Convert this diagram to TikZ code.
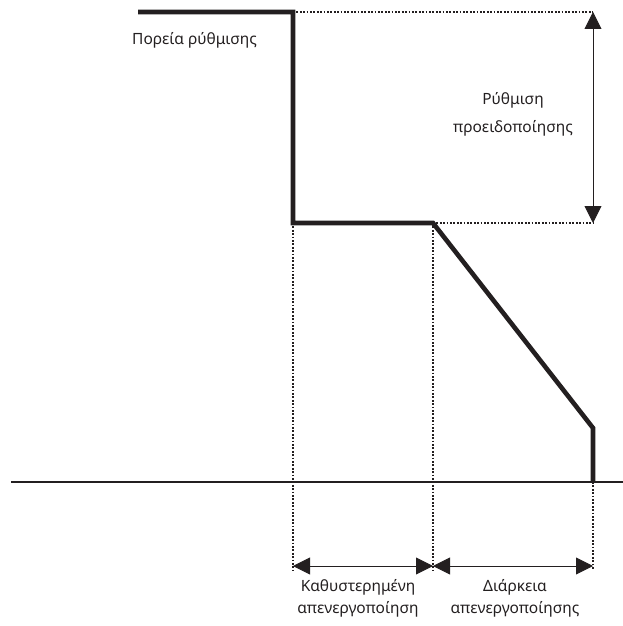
\documentclass[tikz,border=0pt]{standalone}
\usepackage{fontspec}
\setsansfont{Noto Sans}
\usepackage{tikz}
\usetikzlibrary{positioning,arrows.meta}
\definecolor{curvecol}{RGB}{35,31,32}

\begin{document}
\begin{tikzpicture}[
                x=1pt, y=-1pt,
                font=\sffamily\fontsize{15.5}{19}\selectfont,
                curve/.style={draw=curvecol, line width=4.6pt},
                axis/.style={draw=curvecol, line width=2.6pt},
                guide/.style={draw=curvecol, line width=1.8pt, dash pattern=on 1.8pt off 1.6pt},
                span/.style={draw=curvecol, line width=0.9pt, {Triangle[length=17pt,width=17pt]}-{Triangle[length=17pt,width=17pt]}},
                label/.style={align=center, text=curvecol, inner sep=0pt}
                ]
                \useasboundingbox (0,0) rectangle (623,626);

                % corners of the set-point course
                \coordinate (start) at (138,12);
                \coordinate (drop) at (293,12);
                \coordinate (low) at (293,223);
                \coordinate (ramp) at (433,223);
                \coordinate (endramp) at (593,428);
                \coordinate (zero) at (593,482);
                \coordinate (topright) at (593,12);
                \coordinate (midright) at (593,223);
                \coordinate (axisL) at (11,482);
                \coordinate (axisR) at (623,482);
                \coordinate (footA) at (293,570);
                \coordinate (footB) at (433,570);
                \coordinate (footC) at (593,570);
                \coordinate (spanA) at (293,566);
                \coordinate (spanB) at (433,566);
                \coordinate (spanC) at (593,566);

                \draw[axis] (axisL) -- (axisR);

                \draw[guide] (drop) -- (topright);
                \draw[guide] (ramp) -- (midright);
                \draw[guide] (low) -- (footA);
                \draw[guide] (ramp) -- (footB);
                \draw[guide] (zero) -- (footC);

                \draw[curve, line join=miter] (start) -- (drop) -- (low) -- (ramp) -- (endramp) -- (zero);

                \draw[span] (topright) -- (midright);
                \draw[span] (spanA) -- (spanB);
                \draw[span] (spanB) -- (spanC);

                \node[label, anchor=west] (course) at (132,40) {Πορεία ρύθμισης};
                \node[label, font=\sffamily\fontsize{15.5}{28}\selectfont] (warning) at (513,114) {Ρύθμιση\\προειδοποίησης};
                \node[label, font=\sffamily\fontsize{15.5}{22}\selectfont] (delay) at (358,598) {Καθυστερημένη\\απενεργοποίηση};
                \node[label, font=\sffamily\fontsize{15.5}{22}\selectfont] (duration) at (515,598) {Διάρκεια\\απενεργοποίησης};
            \end{tikzpicture}
\end{document}
